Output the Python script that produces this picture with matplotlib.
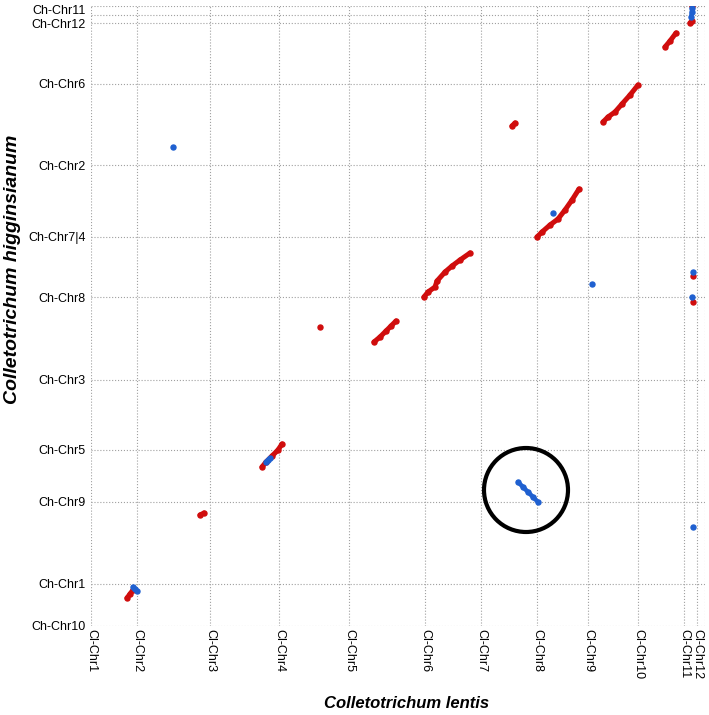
import matplotlib.pyplot as plt
from matplotlib.patches import Circle
from matplotlib.transforms import ScaledTranslation

plt.rcParams["font.family"] = ["Liberation Sans", "DejaVu Sans"]

RED = "#d00d0d"
BLUE = "#1f60d0"

# chromosome start positions (Mb, cumulative) and axis ends
x_labels = ["Cl-Chr1", "Cl-Chr2", "Cl-Chr3", "Cl-Chr4", "Cl-Chr5", "Cl-Chr6",
            "Cl-Chr7", "Cl-Chr8", "Cl-Chr9", "Cl-Chr10", "Cl-Chr11", "Cl-Chr12"]
x_starts = [0.0, 4.6, 11.9, 18.8, 25.8, 33.4, 39.0, 44.6, 49.7, 54.7, 59.3, 60.6]
x_end = 61.4

y_labels = ["Ch-Chr10", "Ch-Chr1", "Ch-Chr9", "Ch-Chr5", "Ch-Chr3", "Ch-Chr8",
            "Ch-Chr7|4", "Ch-Chr2", "Ch-Chr6", "Ch-Chr12", "Ch-Chr11"]
y_starts = [0.0, 4.2, 12.4, 17.6, 24.6, 32.9, 38.9, 46.1, 54.2, 60.3, 61.1]
y_end = 62.0

# same-strand alignments (red), each block as (x list, y list)
red_blocks = [
    ([3.6, 3.9, 4.2], [2.8, 3.2, 3.6]),
    ([10.9, 11.3], [11.1, 11.3]),
    ([17.1, 17.5, 18.1, 18.7, 19.1], [15.9, 16.4, 17.0, 17.6, 18.2]),
    ([22.9], [29.9]),
    ([28.3, 28.9, 29.5, 30.0, 30.5], [28.4, 28.9, 29.5, 30.0, 30.5]),
    ([33.3, 33.7, 34.4, 34.6, 35.4, 36.1, 36.9, 37.9], [32.9, 33.4, 33.9, 34.5, 35.4, 36.0, 36.6, 37.3]),
    ([42.1, 42.4], [50.0, 50.3]),
    ([44.6, 45.1, 45.9, 46.7, 47.4, 48.1, 48.8], [38.9, 39.4, 40.1, 40.7, 41.6, 42.6, 43.7]),
    ([51.2, 51.7, 52.4, 53.1, 53.9, 54.7], [50.4, 50.9, 51.4, 52.2, 53.1, 54.1]),
    ([57.4, 57.9, 58.5], [57.9, 58.5, 59.3]),
    ([59.9, 60.1], [60.3, 60.5]),
    ([60.1], [62.0]),
    ([60.2], [35.0]),
    ([60.2], [32.4]),
]

# reverse-strand alignments (blue)
blue_blocks = [
    ([4.2, 4.4, 4.6], [3.9, 3.7, 3.5]),
    ([17.5, 17.7, 17.9], [16.4, 16.6, 16.8]),
    ([8.2], [47.9]),
    ([42.7, 43.2, 43.7, 44.2, 44.7], [14.4, 13.9, 13.4, 12.9, 12.4]),
    ([46.2], [41.3]),
    ([50.1], [34.2]),
    ([60.1, 60.1, 60.0], [61.8, 61.4, 60.9]),
    ([60.2], [35.4]),
    ([60.1], [32.9]),
    ([60.2], [9.9]),
]

# highlighted inversion
circle_center = (43.5, 13.6)
circle_radius = 4.2

fig = plt.figure(figsize=(7.09, 7.15), dpi=100)
ax = fig.add_axes([91 / 709, (715 - 626) / 715, (705 - 91) / 709, (626 - 6) / 715])

for xs, ys in red_blocks:
    ax.plot(xs, ys, color=RED, lw=3.6, marker="o", ms=3.6, solid_capstyle="round", zorder=3)
for xs, ys in blue_blocks:
    ax.plot(xs, ys, color=BLUE, lw=3.2, marker="o", ms=3.6, solid_capstyle="round", zorder=4)

ax.add_patch(Circle(circle_center, circle_radius, fill=False, lw=3, color="black", zorder=5))

ax.set_xlim(0, x_end)
ax.set_ylim(0, y_end)
ax.set_xticks(x_starts)
ax.set_xticklabels(x_labels, rotation=270, fontsize=9)
ax.set_yticks(y_starts)
ax.set_yticklabels(y_labels, fontsize=9)
ax.tick_params(length=0, pad=4)
ax.tick_params(axis="x", pad=2)

# nudge the crowded top label up a little
top_label = ax.get_yticklabels()[-1]
top_label.set_transform(top_label.get_transform() + ScaledTranslation(0, 6 / 100, fig.dpi_scale_trans))

ax.grid(True, ls=":", lw=0.8, color="#a0a0a0")
ax.axvline(x_end, ls=":", lw=0.8, color="#a0a0a0")
ax.axhline(y_end, ls=":", lw=0.8, color="#a0a0a0")
for s in ax.spines.values():
    s.set_visible(False)

fig.text(407 / 709, 1 - 703 / 715, "Colletotrichum lentis", ha="center", va="center",
         fontsize=12, fontweight="bold", fontstyle="italic")
fig.text(13 / 709, 1 - 269 / 715, "Colletotrichum higginsianum", ha="center", va="center",
         rotation=90, fontsize=14, fontweight="bold", fontstyle="italic")

fig.savefig("out.png", dpi=100)
